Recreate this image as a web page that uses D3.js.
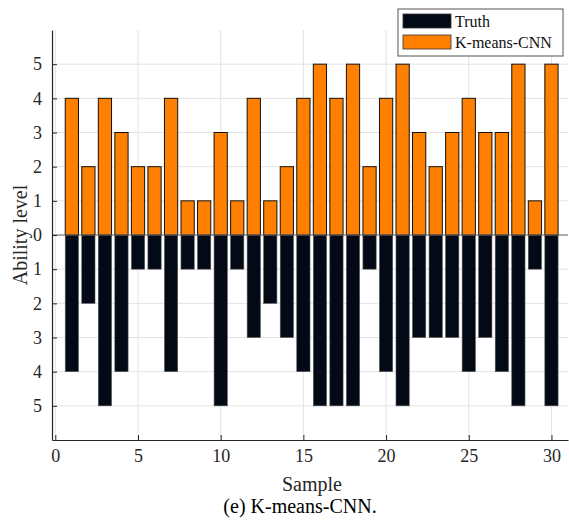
<!DOCTYPE html>
<html>
<head>
<meta charset="utf-8">
<script src="https://cdn.jsdelivr.net/npm/d3@7"></script>
<style>
  body { margin: 0; background: #fff; }
</style>
</head>
<body>
<svg id="chart"></svg>
<script>
const samples = d3.range(1, 31);
const predicted = [4, 2, 4, 3, 2, 2, 4, 1, 1, 3, 1, 4, 1, 2, 4, 5, 4, 5, 2, 4, 5, 3, 2, 3, 4, 3, 3, 5, 1, 5];
const truth = [4, 2, 5, 4, 1, 1, 4, 1, 1, 5, 1, 3, 2, 3, 4, 5, 5, 5, 1, 4, 5, 3, 3, 3, 4, 3, 4, 5, 1, 5];
const xTicks = [0, 5, 10, 15, 20, 25, 30];
const yTicks = [-5, -4, -3, -2, -1, 0, 1, 2, 3, 4, 5];
const seriesNames = ['Truth', 'K-means-CNN'];
const seriesColors = ['#030a16', '#ff8000'];

const FONT = '"Liberation Serif", "Times New Roman", serif';
const width = 569, height = 520;
const margin = { top: 30, right: 1, bottom: 80, left: 52 };
const innerW = width - margin.left - margin.right;
const innerH = height - margin.top - margin.bottom;

const svg = d3.select('#chart').attr('width', width).attr('height', height)
  .attr('font-family', FONT);
const g = svg.append('g').attr('transform', `translate(${margin.left},${margin.top})`);

const x = d3.scaleLinear().domain([-0.2, 31]).range([0, innerW]);
const y = d3.scaleLinear().domain([-6, 6]).range([innerH, 0]);
const barW = x(0.8) - x(0);

// grid
g.append('g').selectAll('line').data(xTicks).enter().append('line')
  .attr('x1', d => x(d)).attr('x2', d => x(d))
  .attr('y1', 0).attr('y2', innerH)
  .attr('stroke', '#e3e3e3').attr('stroke-width', 1);
g.append('g').selectAll('line').data(yTicks).enter().append('line')
  .attr('x1', 0).attr('x2', innerW)
  .attr('y1', d => y(d)).attr('y2', d => y(d))
  .attr('stroke', '#e3e3e3').attr('stroke-width', 1);

// truth bars (downward)
g.append('g').selectAll('rect').data(samples).enter().append('rect')
  .attr('x', d => x(d) - barW / 2)
  .attr('y', y(0))
  .attr('width', barW)
  .attr('height', (d, i) => y(-truth[i]) - y(0))
  .attr('fill', seriesColors[0])
  .attr('stroke', '#555').attr('stroke-width', 0.6);

// predicted bars (upward)
g.append('g').selectAll('rect').data(samples).enter().append('rect')
  .attr('x', d => x(d) - barW / 2)
  .attr('y', (d, i) => y(predicted[i]))
  .attr('width', barW)
  .attr('height', (d, i) => y(0) - y(predicted[i]))
  .attr('fill', seriesColors[1])
  .attr('stroke', '#111').attr('stroke-width', 1);

// zero line
g.append('line').attr('x1', 0).attr('x2', innerW)
  .attr('y1', y(0)).attr('y2', y(0))
  .attr('stroke', '#666').attr('stroke-width', 1);

// axes
const xAxis = g.append('g').attr('transform', `translate(0,${innerH})`)
  .call(d3.axisBottom(x).tickValues(xTicks).tickSize(-5).tickPadding(9).tickSizeOuter(0));
const yAxis = g.append('g')
  .call(d3.axisLeft(y).tickValues(yTicks).tickSize(-5).tickPadding(10).tickSizeOuter(0)
    .tickFormat(d => String(Math.abs(d))));
[xAxis, yAxis].forEach(a => {
  a.attr('font-family', FONT).attr('font-size', 18);
  a.select('.domain').attr('stroke', '#262626').attr('stroke-width', 1.2);
  a.selectAll('.tick line').attr('stroke', '#262626');
  a.selectAll('.tick text').attr('fill', '#262626');
});

// labels
svg.append('text').attr('x', 312).attr('y', 491).attr('text-anchor', 'middle')
  .attr('fill', '#262626').attr('font-size', 20).text('Sample');
svg.append('text').attr('transform', `translate(27,${margin.top + y(0)}) rotate(-90)`)
  .attr('text-anchor', 'middle').attr('fill', '#262626').attr('font-size', 20)
  .text('Ability level');
svg.append('text').attr('x', 300).attr('y', 513).attr('text-anchor', 'middle')
  .attr('fill', '#000').attr('font-size', 20).text('(e) K-means-CNN.');

// legend
const lg = svg.append('g').attr('transform', 'translate(398,9)');
lg.append('rect').attr('width', 165).attr('height', 47)
  .attr('fill', '#fff').attr('stroke', '#555').attr('stroke-width', 1);
seriesNames.forEach((name, i) => {
  lg.append('rect').attr('x', 5).attr('y', 5 + i * 21).attr('width', 48).attr('height', 14)
    .attr('fill', seriesColors[i]).attr('stroke', '#333').attr('stroke-width', 0.8);
  lg.append('text').attr('x', 57).attr('y', 18 + i * 21)
    .attr('fill', '#111').attr('font-size', 16).text(name);
});
</script>
</body>
</html>
